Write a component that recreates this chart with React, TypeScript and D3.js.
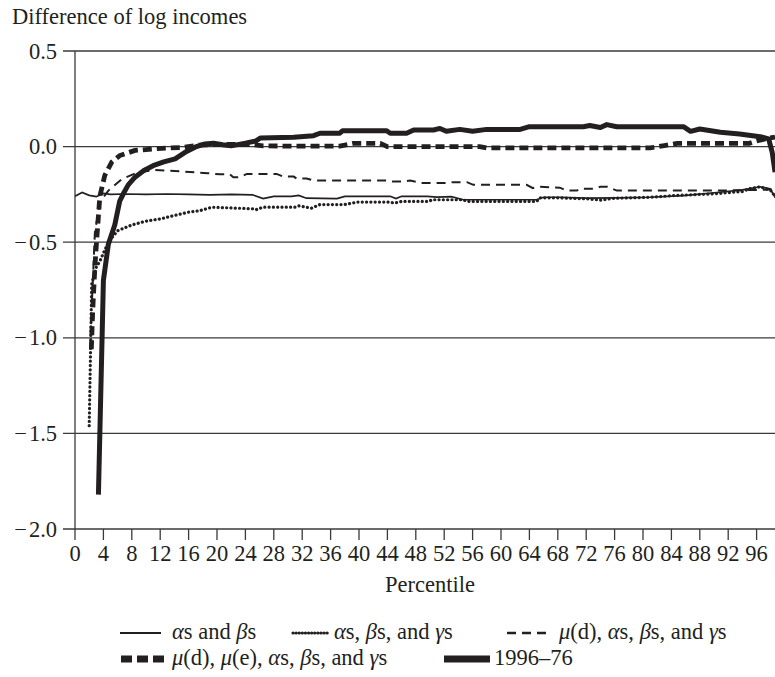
import React from "react";
import * as d3 from "d3";

type Pt = [number, number];

// Percentile / value pairs
const alphaBeta: Pt[] = [
  [0, -0.26], [1, -0.24], [2, -0.255], [3, -0.262], [4, -0.245], [5, -0.25], [7, -0.248],
  [10, -0.25], [13, -0.248], [16, -0.25], [19, -0.252], [22, -0.25], [25, -0.252],
  [26.5, -0.272], [28, -0.26], [30.5, -0.26], [31.5, -0.255], [32.6, -0.27], [36.9, -0.272],
  [38, -0.26], [44.4, -0.26], [45.2, -0.272], [46, -0.26], [49.6, -0.26], [51, -0.264],
  [53, -0.262], [54.7, -0.278], [60, -0.278], [65, -0.278], [66, -0.265], [68.3, -0.265],
  [72, -0.27], [76, -0.268], [81, -0.265], [85.7, -0.256], [90.4, -0.24], [94, -0.226],
  [96.5, -0.21], [97.9, -0.22], [98.6, -0.265], [99, -0.27],
];

const alphaBetaGamma: Pt[] = [
  [2, -1.46], [2.2, -1.05], [2.35, -0.72], [3, -0.63], [3.5, -0.6], [4.2, -0.54], [4.9, -0.49],
  [6, -0.44], [8, -0.41], [10, -0.39], [12.2, -0.377], [14, -0.36], [16, -0.343],
  [17.6, -0.335], [19.3, -0.317], [25, -0.325], [25.5, -0.33], [26.5, -0.317], [31, -0.317],
  [31.5, -0.31], [33.3, -0.322], [34.5, -0.303], [38, -0.303], [39.8, -0.29], [44, -0.29],
  [45, -0.295], [46, -0.287], [49.8, -0.287], [50.3, -0.278], [54.5, -0.278], [55.5, -0.287],
  [65, -0.287], [65.5, -0.268], [68.3, -0.268], [72, -0.273], [74, -0.28], [76, -0.27],
  [81, -0.265], [85, -0.255], [90, -0.247], [94, -0.235], [95, -0.22], [96.5, -0.21],
  [98, -0.23], [98.6, -0.26],
];

const muDAlphaBetaGamma: Pt[] = [
  [2.4, -0.8], [2.8, -0.45], [3.5, -0.29], [4.7, -0.23], [6.6, -0.17], [8.9, -0.134],
  [11.3, -0.122], [15, -0.13], [18.7, -0.139], [20.4, -0.145],
  [21.8, -0.145], [22.3, -0.16], [23.2, -0.16], [24.2, -0.143], [28.4, -0.143], [29.3, -0.157],
  [30.8, -0.157], [31.2, -0.167], [32.6, -0.167], [33.6, -0.177], [43.9, -0.177],
  [44.8, -0.183], [46.2, -0.183], [47.2, -0.177], [48.6, -0.19], [52.3, -0.19],
  [53.3, -0.186], [55.2, -0.186], [56.1, -0.2], [63.6, -0.2], [64.5, -0.217], [65.5, -0.21],
  [68.3, -0.215], [69.2, -0.23], [70.7, -0.23], [71.1, -0.22], [73, -0.22], [74, -0.21],
  [75, -0.21], [76.3, -0.23], [90, -0.23], [94, -0.228], [97.9, -0.225], [98.6, -0.225],
];

const muDmuEAll: Pt[] = [
  [2.3, -1.06], [2.45, -0.9], [2.58, -0.79], [2.8, -0.63], [3.05, -0.49], [3.5, -0.26],
  [4.2, -0.15], [5.2, -0.08], [6.3, -0.047], [8.45, -0.02], [12.2, -0.009], [15, -0.005],
  [17.6, 0.008], [20, 0.012], [25, 0.01], [26.5, 0.004], [31, 0.002], [37.3, 0.002],
  [39.2, 0.017], [43, 0.017], [44, 0.0], [57, 0.0], [58, -0.007], [81, -0.007], [83, 0.005],
  [84.8, 0.017], [95, 0.017], [96, 0.03], [97.9, 0.045], [98.6, 0.05],
];

const actual9676: Pt[] = [
  [3.3, -1.82], [4.0, -0.7], [4.7, -0.51], [5.6, -0.41], [6.3, -0.285], [6.8, -0.247],
  [7.5, -0.2], [8.45, -0.16], [9.7, -0.125], [11, -0.1], [12.5, -0.08], [14.1, -0.064],
  [15.5, -0.03], [16.9, -0.003], [18.3, 0.014], [19.5, 0.018], [20.8, 0.01], [22, 0.004],
  [24, 0.018], [25.5, 0.03], [26.1, 0.045],
  [30.8, 0.049], [33.6, 0.057], [34.5, 0.07], [37.3, 0.07], [37.7, 0.083], [43.9, 0.083],
  [44.4, 0.07], [46.7, 0.07], [47.7, 0.087], [50.5, 0.087], [51.4, 0.095], [52.3, 0.08],
  [54.2, 0.09], [56, 0.08], [58, 0.09], [62.7, 0.09], [64, 0.104], [71.6, 0.104],
  [72.5, 0.11], [74, 0.1], [74.9, 0.115], [76.3, 0.104], [85.7, 0.104], [86.7, 0.08],
  [88, 0.092], [90.9, 0.075], [93.6, 0.066], [96.5, 0.052], [97.7, 0.04], [98.2, -0.03],
  [98.6, -0.134],
];

const xTicks = d3.range(0, 97, 4);
const yTicks = [0.5, 0, -0.5, -1, -1.5, -2];

const INK = "#231f20";
const GRID = "#3a3a3a";
const FONT = "'Liberation Serif', 'Times New Roman', serif";
const FS = 22.5;

export default function App() {
  const W = 775, H = 677;
  const x = d3.scaleLinear().domain([0, 100]).range([75, 785]);
  const y = d3.scaleLinear().domain([0.5, -2]).range([51, 529]);
  const line = d3.line<Pt>().x((d) => x(d[0])).y((d) => y(d[1]));

  const greek = (s: string) => <tspan fontStyle="italic">{s}</tspan>;
  const fmt = (t: number) => Math.abs(t).toFixed(1);

  return (
    <svg
      width={W}
      height={H}
      style={{ position: "absolute", left: 0, top: 0, background: "#fff" }}
      fontFamily={FONT}
    >
      <rect x={0} y={0} width={W} height={H} fill="#fff" />
      <text x={12} y={24} fontSize={FS} fill={INK}>Difference of log incomes</text>

      {/* horizontal grid lines with ticks */}
      {yTicks.map((t) => (
        <g key={t}>
          <line x1={63} x2={W} y1={y(t)} y2={y(t)} stroke={GRID} strokeWidth={1.3} />
          <text x={57} y={y(t)} dy="0.34em" textAnchor="end" fontSize={FS} fill={INK}>
            {t < 0 ? <tspan>{"\u2212"}</tspan> : null}
            {t < 0 ? <tspan dx={2}>{fmt(t)}</tspan> : fmt(t)}
          </text>
        </g>
      ))}
      {/* y axis */}
      <line x1={x(0)} x2={x(0)} y1={y(0.5)} y2={y(-2)} stroke={GRID} strokeWidth={1.3} />
      {/* x ticks */}
      {xTicks.map((t) => (
        <g key={t}>
          <line x1={x(t)} x2={x(t)} y1={y(-2)} y2={y(-2) + 11} stroke={GRID} strokeWidth={1.3} />
          <text x={x(t)} y={561} textAnchor="middle" fontSize={FS} fill={INK}>{t}</text>
        </g>
      ))}
      <text x={430} y={592} textAnchor="middle" fontSize={FS} fill={INK}>Percentile</text>

      <defs>
        <clipPath id="plotclip">
          <rect x={75} y={40} width={W - 75} height={500} />
        </clipPath>
      </defs>
      <g clipPath="url(#plotclip)">
        <path d={line(alphaBeta) ?? ""} fill="none" stroke={INK} strokeWidth={1.7} />
        <path d={line(alphaBetaGamma) ?? ""} fill="none" stroke={INK} strokeWidth={3.2}
          strokeDasharray="0.1 4.2" strokeLinecap="round" />
        <path d={line(muDAlphaBetaGamma) ?? ""} fill="none" stroke={INK} strokeWidth={2}
          strokeDasharray="9 6" />
        <path d={line(muDmuEAll) ?? ""} fill="none" stroke={INK} strokeWidth={4.8}
          strokeDasharray="9 5" />
        <path d={line(actual9676) ?? ""} fill="none" stroke={INK} strokeWidth={5}
          strokeLinejoin="round" />
      </g>

      {/* legend */}
      <g fontSize={FS} fill={INK}>
        <line x1={120} x2={161} y1={633} y2={633} stroke={INK} strokeWidth={2} />
        <text x={172} y={639}>{greek("α")}s and {greek("β")}s</text>

        <line x1={293} x2={330} y1={633} y2={633} stroke={INK} strokeWidth={3.2}
          strokeDasharray="0.1 3" strokeLinecap="round" />
        <text x={334} y={639}>{greek("α")}s, {greek("β")}s, and {greek("γ")}s</text>

        <line x1={507} x2={550} y1={633} y2={633} stroke={INK} strokeWidth={2.4}
          strokeDasharray="9 6" />
        <text x={559} y={639}>{greek("μ")}(d), {greek("α")}s, {greek("β")}s, and {greek("γ")}s</text>

        <line x1={121} x2={166} y1={659} y2={659} stroke={INK} strokeWidth={7}
          strokeDasharray="11 5" />
        <text x={172} y={665}>
          {greek("μ")}(d), {greek("μ")}(e), {greek("α")}s, {greek("β")}s, and {greek("γ")}s
        </text>

        <line x1={444} x2={490} y1={659} y2={659} stroke={INK} strokeWidth={7} />
        <text x={494} y={665}>1996–76</text>
      </g>
    </svg>
  );
}
